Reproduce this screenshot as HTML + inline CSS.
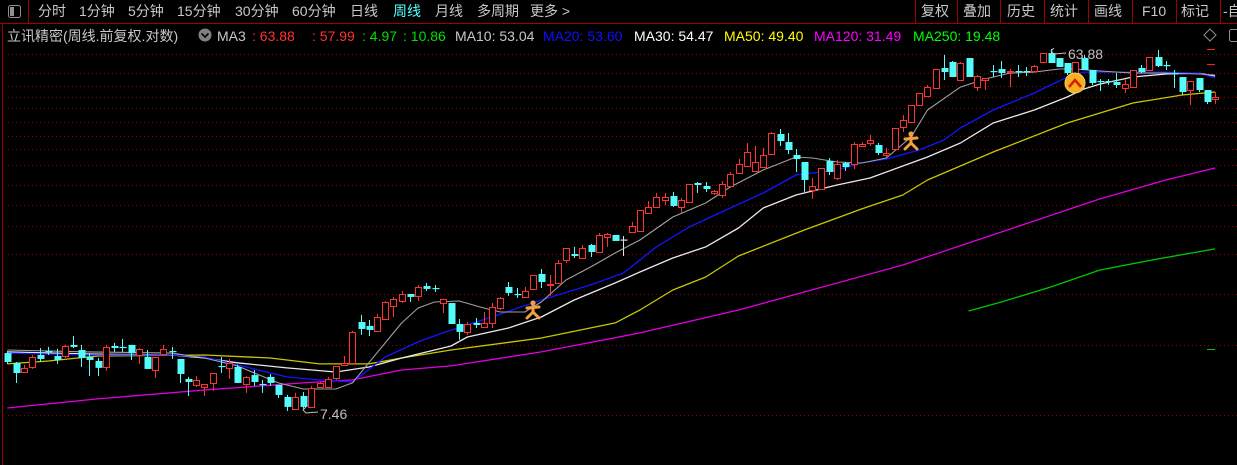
<!DOCTYPE html>
<html><head><meta charset="utf-8">
<style>
html,body{margin:0;padding:0;background:#000;width:1237px;height:465px;overflow:hidden}
svg{display:block}
text{font-family:"Liberation Sans","Noto Sans CJK SC",sans-serif;font-size:14px}
</style></head>
<body>
<svg id="chart" width="1237" height="465" viewBox="0 0 1237 465" xmlns="http://www.w3.org/2000/svg">
<rect x="0" y="0" width="1237" height="465" fill="#000"/>
<g id="toolbar">
  <line x1="0" y1="23.5" x2="1237" y2="23.5" stroke="#a00000"/>
  <line x1="2.5" y1="23" x2="2.5" y2="465" stroke="#a00000"/>
  <g>
    <line x1="28.5" y1="0" x2="28.5" y2="23" stroke="#a00000"/>
    <rect x="8.5" y="5.5" width="12" height="12" rx="2" fill="none" stroke="#909090"/>
    <rect x="10" y="7" width="4" height="9" fill="#909090"/>
  </g>
  <text x="38" y="16" fill="#c8c8c8">分时</text>
  <text x="79" y="16" fill="#c8c8c8">1分钟</text>
  <text x="128" y="16" fill="#c8c8c8">5分钟</text>
  <text x="177" y="16" fill="#c8c8c8">15分钟</text>
  <text x="235" y="16" fill="#c8c8c8">30分钟</text>
  <text x="292" y="16" fill="#c8c8c8">60分钟</text>
  <text x="350" y="16" fill="#c8c8c8">日线</text>
  <text x="393" y="16" fill="#54ffff">周线</text>
  <text x="435" y="16" fill="#c8c8c8">月线</text>
  <text x="477" y="16" fill="#c8c8c8">多周期</text>
  <text x="530" y="16" fill="#c8c8c8">更多 &gt;</text>
  <g stroke="#a00000">
    <line x1="915.5" y1="0" x2="915.5" y2="23"/><line x1="957.5" y1="0" x2="957.5" y2="23"/>
    <line x1="1000.5" y1="0" x2="1000.5" y2="23"/><line x1="1044.5" y1="0" x2="1044.5" y2="23"/>
    <line x1="1088.5" y1="0" x2="1088.5" y2="23"/><line x1="1132.5" y1="0" x2="1132.5" y2="23"/>
    <line x1="1176.5" y1="0" x2="1176.5" y2="23"/><line x1="1220.5" y1="0" x2="1220.5" y2="23"/>
  </g>
  <text x="921" y="16" fill="#c8c8c8">复权</text>
  <text x="963" y="16" fill="#c8c8c8">叠加</text>
  <text x="1007" y="16" fill="#c8c8c8">历史</text>
  <text x="1050" y="16" fill="#c8c8c8">统计</text>
  <text x="1094" y="16" fill="#c8c8c8">画线</text>
  <text x="1142" y="16" fill="#c8c8c8">F10</text>
  <text x="1181" y="16" fill="#c8c8c8">标记</text>
  <text x="1223" y="16" fill="#c8c8c8">-自</text>
</g>
<g id="legend">
  <text x="7" y="41" fill="#c8c8c8">立讯精密(周线.前复权.对数)</text>
  <g>
    <circle cx="205" cy="35" r="6.5" fill="#808080"/>
    <polyline points="201.5,33.5 205,37 208.5,33.5" fill="none" stroke="#000" stroke-width="1.6"/>
  </g>
  <text x="217" y="41" fill="#c8c8c8">MA3</text>
  <text x="252" y="41" fill="#ff3232">: 63.88</text>
  <text x="312" y="41" fill="#ff3232">: 57.99</text>
  <text x="362" y="41" fill="#00e000">: 4.97</text>
  <text x="403" y="41" fill="#00e000">: 10.86</text>
  <text x="455" y="41" fill="#c8c8c8">MA10: 53.04</text>
  <text x="543" y="41" fill="#1010ff">MA20: 53.60</text>
  <text x="634" y="41" fill="#ffffff">MA30: 54.47</text>
  <text x="724" y="41" fill="#ffff00">MA50: 49.40</text>
  <text x="814" y="41" fill="#ff00ff">MA120: 31.49</text>
  <text x="913" y="41" fill="#00ff00">MA250: 19.48</text>
  <g>
    <polygon points="1210,29 1216,35 1210,41 1204,35" fill="none" stroke="#909090"/>
  </g>
  <g>
    <rect x="1229.5" y="29.5" width="10" height="12" rx="2" fill="none" stroke="#909090"/>
  </g>
</g>
<g id="grid"></g>
<g id="malines"></g>
<g id="candles"></g>
<g id="marks"></g>
</svg>
<script>
const opens=[10.41,9.82,9.30,9.58,10.29,10.54,10.23,10.23,10.93,10.60,10.17,9.93,9.58,10.86,10.80,10.93,10.29,10.17,9.41,10.35,10.54,10.05,8.92,8.61,8.51,8.71,9.64,9.53,9.58,8.66,9.13,8.66,9.03,8.61,8.01,7.46,8.06,7.55,8.51,8.51,8.97,9.70,9.82,12.53,12.24,11.88,12.76,13.79,14.20,14.81,14.64,15.53,15.35,14.03,14.03,12.38,11.81,12.46,12.16,12.46,13.62,15.44,14.81,14.55,15.26,16.69,15.63,15.82,18.14,18.80,18.36,19.84,19.03,20.81,21.06,20.50,21.43,21.56,24.01,24.89,25.95,26.57,24.89,25.64,28.72,28.21,27.05,26.73,28.21,30.48,31.78,30.85,31.59,34.14,38.47,36.67,33.94,32.55,27.54,27.70,32.74,29.59,32.35,32.15,35.81,36.45,36.02,33.94,35.18,40.11,41.32,45.73,48.25,50.60,57.03,59.11,53.09,60.53,50.90,53.09,56.02,56.69,55.67,56.02,56.02,56.02,59.11,62.36,60.53,58.76,55.34,60.53,56.35,52.78,52.78,52.46,50.60,50.90,57.03,56.35,60.89,58.06,55.34,54.05,50.01,53.73,50.01,47.40];
const highs=[10.54,9.87,9.70,10.29,10.73,10.80,10.67,10.93,11.53,10.93,10.41,10.11,10.93,11.06,11.33,10.93,10.73,10.60,10.17,10.93,10.80,10.05,9.03,9.08,8.66,9.24,10.17,10.05,9.70,9.08,9.41,8.87,9.19,8.61,8.11,8.21,8.25,8.56,8.76,9.03,9.64,10.23,11.88,13.07,12.68,13.15,14.20,14.55,15.08,14.81,15.63,15.82,15.63,14.38,14.03,12.76,12.53,12.83,13.30,14.03,14.55,15.91,15.35,15.44,16.59,17.19,16.59,18.14,19.49,19.61,19.84,19.96,21.31,21.31,21.06,20.93,22.76,24.45,25.80,27.05,27.05,27.21,26.26,28.55,28.89,28.89,27.54,29.06,30.67,33.13,36.45,35.81,35.39,38.93,39.64,38.70,35.18,32.55,29.59,31.40,33.33,32.94,32.55,36.67,36.67,38.24,36.45,35.39,39.87,43.08,45.73,49.13,51.53,56.69,61.63,59.46,59.11,60.53,54.70,53.73,58.06,59.46,56.69,58.06,57.37,58.06,62.36,63.88,60.53,58.76,59.11,61.63,56.35,53.41,53.41,55.34,53.41,56.35,58.06,60.89,63.50,59.46,56.35,54.05,52.78,53.73,50.01,49.42];
const lows=[9.76,8.71,9.24,9.47,9.87,10.29,9.76,10.11,10.73,9.58,9.08,9.08,9.36,10.48,10.48,9.99,9.76,9.47,8.97,10.29,10.05,8.71,8.06,8.51,8.06,8.30,9.24,8.92,8.71,8.21,8.56,8.21,8.56,7.96,7.37,7.50,7.46,7.55,8.46,8.51,8.87,9.64,9.82,11.60,11.53,11.88,12.76,12.91,14.03,14.12,14.20,15.08,14.99,13.22,12.38,11.26,11.60,12.09,12.16,12.09,13.46,14.64,14.46,14.46,15.17,15.35,14.64,15.82,17.82,18.36,18.36,18.47,18.92,19.61,20.32,18.58,21.43,21.43,24.01,24.89,25.19,24.89,24.01,25.64,27.05,27.21,26.73,26.26,28.04,30.30,31.78,30.67,31.59,34.14,35.81,34.14,30.67,27.21,26.11,27.54,30.12,29.24,30.85,31.22,35.81,35.81,33.94,33.54,35.18,38.93,41.32,45.73,47.96,50.60,53.09,54.05,53.09,54.05,49.72,50.01,54.05,53.73,50.90,54.05,54.38,56.02,59.11,58.76,57.37,54.70,54.70,56.35,51.53,49.72,51.53,50.60,49.13,50.90,55.34,56.35,57.37,56.35,50.60,48.54,45.73,49.42,46.01,46.01];
const closes=[9.87,9.24,9.53,10.17,10.05,10.48,9.99,10.86,10.80,10.11,9.99,9.53,10.80,10.73,10.73,10.41,10.67,9.47,10.17,10.67,10.48,9.19,8.76,8.87,8.66,9.24,9.58,9.82,8.71,9.03,8.76,8.61,8.71,8.11,7.55,8.01,7.55,8.46,8.71,8.92,9.64,9.82,11.81,12.02,11.95,12.91,14.12,14.38,14.81,14.55,15.44,15.26,15.26,14.38,12.38,11.81,12.38,12.31,12.46,13.70,14.46,14.90,14.76,15.08,16.59,15.91,15.72,17.82,19.49,18.58,19.49,19.03,21.06,21.18,20.32,20.50,22.22,24.45,24.89,26.42,26.42,25.04,25.95,28.55,28.38,27.70,27.38,28.55,30.30,32.15,34.55,32.55,33.94,38.70,36.89,34.96,33.13,29.24,28.21,31.40,30.67,32.15,31.59,36.24,36.24,37.11,34.35,34.35,39.87,41.82,45.73,49.13,50.90,56.69,55.67,54.05,58.76,54.05,54.38,53.73,55.67,55.34,56.02,55.67,55.67,57.71,62.36,58.76,57.37,55.34,59.11,56.35,52.15,52.46,52.46,51.53,51.84,56.35,55.67,60.89,57.71,57.71,55.02,49.42,52.78,50.01,46.56,47.96];

const ma10Idx=[0,10,20,24,28,33,36,40,42,44,46,48,50,52,55,58,60,63,65,68,71,74,77,81,85,88,92,96,98,101,104,107,110,112,116,119,122,125,128,130,133,137,141,145,147];
const ma10Val=[10.60,10.48,10.41,10.11,9.64,8.71,8.40,8.40,8.71,9.82,11.06,12.46,13.62,14.12,14.20,13.62,13.30,13.30,14.12,16.10,17.40,18.92,20.44,23.45,25.49,28.04,31.03,33.54,33.33,32.55,32.35,33.33,37.79,44.39,50.90,53.41,55.34,55.67,56.69,56.69,56.02,55.34,55.34,55.02,54.70];
const ma20Idx=[0,10,20,24,28,34,38,42,46,50,53,59,65,71,75,79,83,88,92,96,101,104,107,111,114,116,120,125,129,131,137,141,145,147];
const ma20Val=[10.41,10.29,10.29,10.17,9.70,9.03,8.87,8.76,10.17,11.13,11.74,12.91,14.29,15.63,16.79,19.61,22.09,24.74,27.05,30.12,31.03,32.35,33.13,34.96,37.11,39.87,44.39,49.13,54.05,55.67,55.67,55.67,55.34,53.73];
const ma30Idx=[0,10,20,24,28,34,40,44,48,54,56,61,65,69,74,77,81,85,89,92,96,101,105,109,112,116,120,125,129,131,133,137,141,145,147];
const ma30Val=[10.48,10.35,10.29,10.11,9.82,9.53,9.30,9.58,10.11,10.86,11.46,12.09,12.91,14.29,15.82,16.89,18.36,19.61,21.95,24.74,26.73,28.38,29.59,31.78,33.54,36.45,41.08,44.39,47.96,50.30,51.84,54.05,55.02,55.34,54.38];
const ma50Idx=[0,5,11,24,32,38,44,48,54,65,74,77,81,85,89,97,104,109,112,114,120,129,137,143,147];
const ma50Val=[9.76,9.93,10.23,10.29,10.11,9.76,9.76,10.11,10.60,11.39,12.46,13.46,15.17,16.39,18.58,21.70,24.60,26.73,29.24,30.48,34.55,41.08,46.28,48.54,49.42];
const ma120Idx=[0,11,24,36,42,48,54,65,77,89,97,109,121,133,141,147];
const ma120Val=[7.50,7.92,8.35,8.71,8.87,9.41,9.64,10.48,11.74,13.46,14.99,17.61,21.44,26.11,29.24,31.41];
const ma250Idx=[117,121,127,133,140,147];
const ma250Val=[13.38,14.12,15.44,17.09,18.25,19.38];
const gridPrices=[62.0,55.3,51.3,48.1,44.9,41.3,38.1,35.2,31.9,28.4,25.2,22.2,18.8,14.8,10.9,7.19];

const NS='http://www.w3.org/2000/svg';
const REF=63.88, Y_REF=49, K=167.6, X0=7.3, DX=8.216;
function yOf(p){return Y_REF+(Math.log(REF)-Math.log(p))*K;}
function xOf(i){return X0+DX*i;}
function mk(tag,attrs,parent){const e=document.createElementNS(NS,tag);for(const k in attrs)e.setAttribute(k,attrs[k]);parent.appendChild(e);return e;}

const grid=document.getElementById('grid');
gridPrices.forEach(function(p){
  const y=Math.round(yOf(p))+0.5;
  const l=mk('line',{x1:8,y1:y,x2:1237,y2:y,stroke:'#8c0000','stroke-dasharray':'1 3'},grid);
  
  
});

const ml=document.getElementById('malines');
function maLine(idx,val,color,w,name){
  const pts=idx.map(function(i,k){return xOf(i).toFixed(1)+','+yOf(val[k]).toFixed(1);}).join(' ');
  const pl=mk('polyline',{points:pts,fill:'none',stroke:color,'stroke-width':w,'stroke-linejoin':'round'},ml);
  
  
}
maLine(ma120Idx,ma120Val,'#e000e0',1.3,'ma120-line');
maLine(ma250Idx,ma250Val,'#00c800',1.3,'ma250-line');
maLine(ma50Idx,ma50Val,'#c8c800',1.3,'ma50-line');
maLine(ma30Idx,ma30Val,'#e8e8e8',1.3,'ma30-line');
maLine(ma20Idx,ma20Val,'#1414ff',1.3,'ma20-line');
maLine(ma10Idx,ma10Val,'#a0a0a0',1.1,'ma10-line');

const cg=document.getElementById('candles');
const RED='#ff3232', CYAN='#54fcfc', W=6;
for(let i=0;i<closes.length;i++){
  const x=Math.round(xOf(i)), o=opens[i], c=closes[i];
  const yo=yOf(o), yc=yOf(c), yh=yOf(highs[i]), yl=yOf(lows[i]);
  const g=mk('g',{},cg);
  
  
  const xc=x+0.5;
  if(c>o){
    const top=Math.round(yc)+0.5, bot=Math.round(yo)+0.5;
    mk('line',{x1:xc,y1:yh,x2:xc,y2:top,stroke:RED},g);
    mk('line',{x1:xc,y1:bot,x2:xc,y2:yl,stroke:RED},g);
    mk('rect',{x:x-2.5,y:top,width:W,height:Math.max(bot-top,1),fill:'#000',stroke:RED},g);
  }else{
    const col=(c===o)?'#e0e0e0':CYAN;
    mk('line',{x1:xc,y1:yh,x2:xc,y2:yl,stroke:col},g);
    const top=yOf(o), h=Math.max(yOf(c)-top,1.2);
    mk('rect',{x:x-2.5,y:top,width:W+1,height:h,fill:col},g);
  }
}

const mg=document.getElementById('marks');
function person(cx,cy,name){
  const g=mk('g',{},mg);
  
  
  mk('circle',{cx:cx,cy:cy-7,r:2.6,fill:'#f0a040'},g);
  mk('path',{d:'M'+(cx-6)+' '+(cy-2)+' L'+(cx+6)+' '+(cy-3)+' M'+cx+' '+(cy-4)+' L'+cx+' '+(cy+2)+' L'+(cx-6)+' '+(cy+8)+' M'+cx+' '+(cy+2)+' L'+(cx+6)+' '+(cy+8),stroke:'#f0a040','stroke-width':3,fill:'none','stroke-linecap':'round'},g);
}
person(533,310,'signal-figure-1');
person(911,141,'signal-figure-2');
const bg=mk('g',{},mg);


mk('circle',{cx:1075,cy:83,r:10,fill:'#f4b020',stroke:'#ffd060'},bg);
mk('polyline',{points:'1069,87 1075,80 1081,87',fill:'none',stroke:'#d02000','stroke-width':2.5},bg);

const hl=mk('g',{},mg);


mk('polyline',{points:'1054,48 1051,51 1054,54 1066,53',fill:'none',stroke:'#c0c0c0'},hl);
const ht=mk('text',{x:1068,y:59,fill:'#c0c0c0'},hl); ht.textContent='63.88';
const ll=mk('g',{},mg);


mk('polyline',{points:'306,407 303,410 306,413 318,412',fill:'none',stroke:'#c0c0c0'},ll);
const lt=mk('text',{x:320,y:419,fill:'#c0c0c0'},ll); lt.textContent='7.46';

const sm=mk('g',{},mg);


mk('line',{x1:1207,y1:49.5,x2:1215,y2:49.5,stroke:'#ff2020'},sm);
mk('line',{x1:1207,y1:64.5,x2:1215,y2:64.5,stroke:'#ff2020'},sm);
mk('line',{x1:1207,y1:349.5,x2:1215,y2:349.5,stroke:'#00c800'},sm);
</script>
</body></html>
